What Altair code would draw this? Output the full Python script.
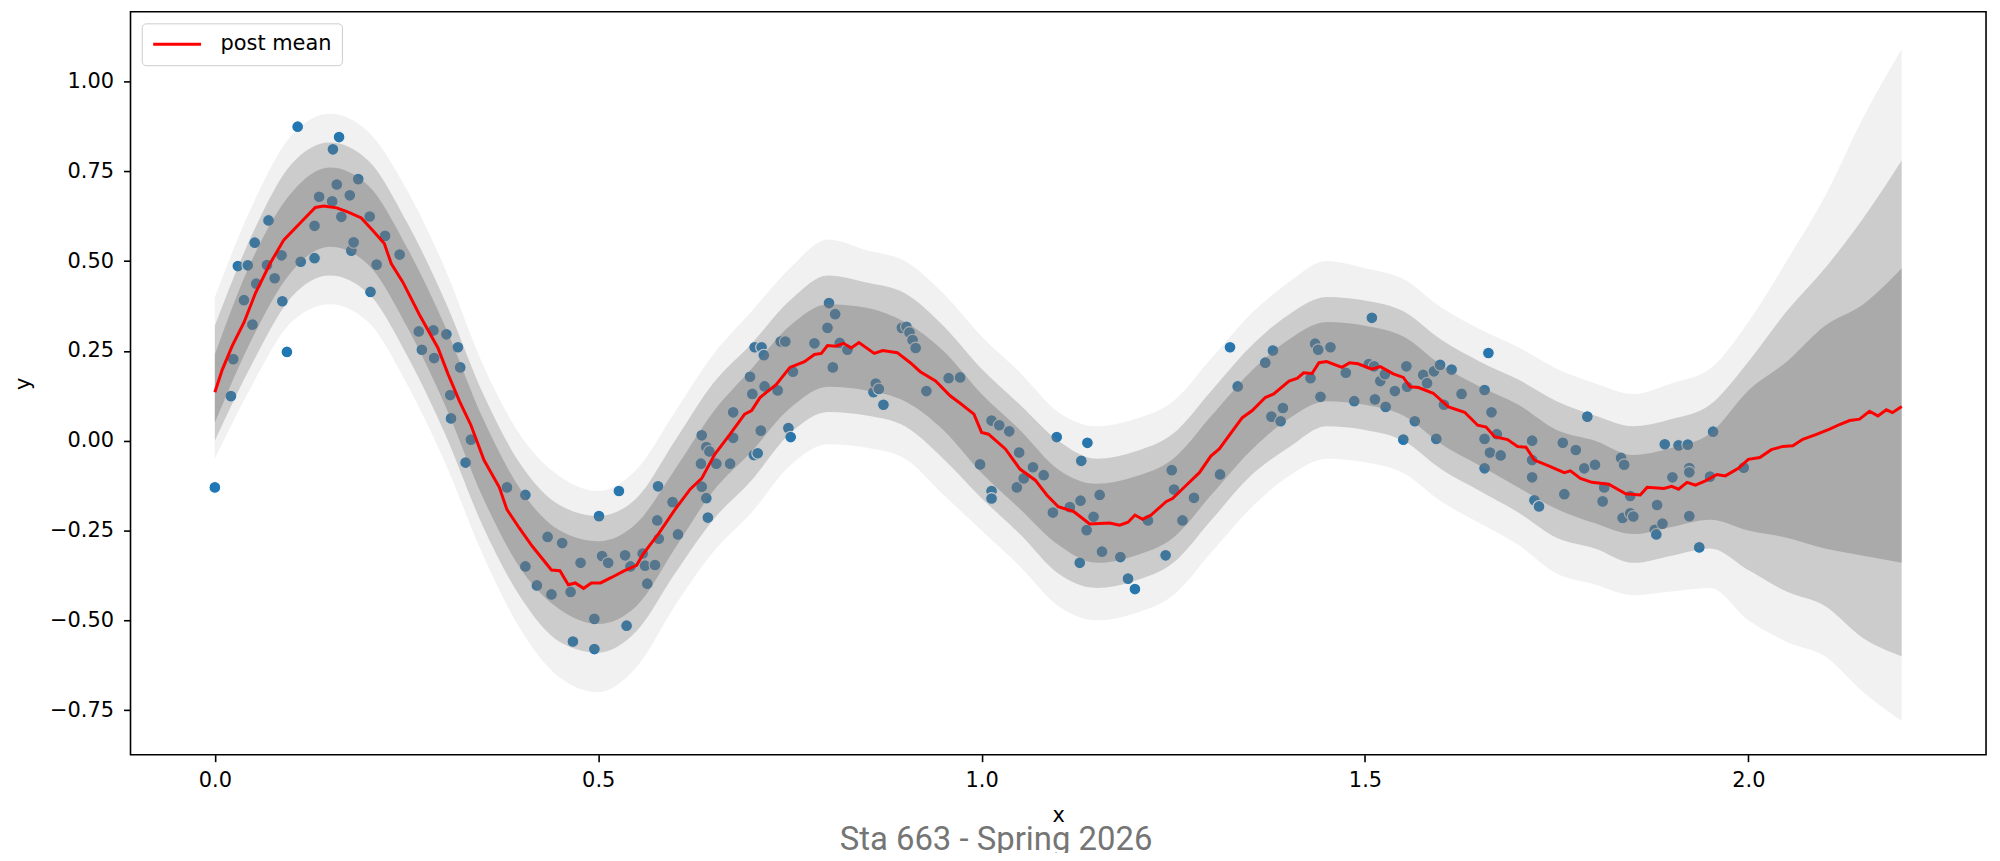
import altair as alt
import pandas as pd

# ---- posterior mean (red line) ----
mean_x = [0.0, 0.0096, 0.0225, 0.038, 0.053, 0.072, 0.090, 0.111, 0.131, 0.142,
          0.159, 0.174, 0.191, 0.206, 0.221, 0.230, 0.245, 0.267, 0.291, 0.304,
          0.319, 0.334, 0.351, 0.371, 0.381, 0.397, 0.414, 0.439, 0.450, 0.461,
          0.470, 0.481, 0.491, 0.503, 0.518, 0.533, 0.550, 0.559, 0.579, 0.600,
          0.620, 0.635, 0.652, 0.672, 0.691, 0.700, 0.711, 0.732, 0.750, 0.769,
          0.782, 0.791, 0.799, 0.810, 0.820, 0.830, 0.840, 0.860, 0.871, 0.890,
          0.907, 0.920, 0.940, 0.959, 0.972, 0.990, 1.000, 1.009, 1.031, 1.050,
          1.070, 1.085, 1.100, 1.120, 1.141, 1.167, 1.180, 1.191, 1.200, 1.210,
          1.221, 1.241, 1.249, 1.269, 1.284, 1.299, 1.310, 1.340, 1.353, 1.370,
          1.381, 1.401, 1.412, 1.420, 1.431, 1.440, 1.450, 1.470, 1.480, 1.491,
          1.509, 1.520, 1.537, 1.550, 1.559, 1.570, 1.589, 1.609, 1.630, 1.647,
          1.658, 1.669, 1.686, 1.699, 1.710, 1.721, 1.738, 1.760, 1.768, 1.781,
          1.796, 1.818, 1.840, 1.859, 1.868, 1.890, 1.900, 1.909, 1.920, 1.931,
          1.944, 1.959, 1.970, 1.987, 2.000, 2.015, 2.030, 2.045, 2.058, 2.071,
          2.088, 2.106, 2.119, 2.132, 2.145, 2.158, 2.169, 2.180, 2.188, 2.200]
mean_y = [0.135, 0.197, 0.263, 0.329, 0.411, 0.493, 0.559, 0.605, 0.649, 0.653,
          0.648, 0.636, 0.620, 0.585, 0.549, 0.493, 0.442, 0.350, 0.258, 0.186,
          0.110, 0.043, -0.054, -0.130, -0.192, -0.243, -0.294, -0.360, -0.362, -0.401,
          -0.396, -0.411, -0.396, -0.396, -0.380, -0.363, -0.347, -0.314, -0.258, -0.192,
          -0.135, -0.105, -0.038, 0.018, 0.074, 0.084, 0.120, 0.156, 0.204, 0.220,
          0.240, 0.243, 0.265, 0.263, 0.271, 0.258, 0.273, 0.243, 0.251, 0.245,
          0.217, 0.192, 0.166, 0.125, 0.104, 0.074, 0.023, 0.018, -0.023, -0.079,
          -0.110, -0.151, -0.184, -0.197, -0.232, -0.229, -0.235, -0.227, -0.207, -0.219,
          -0.207, -0.169, -0.161, -0.120, -0.089, -0.043, -0.023, 0.064, 0.084, 0.120,
          0.130, 0.166, 0.174, 0.189, 0.187, 0.217, 0.220, 0.204, 0.217, 0.214,
          0.199, 0.206, 0.186, 0.176, 0.150, 0.148, 0.132, 0.094, 0.079, 0.043,
          0.038, 0.011, 0.003, -0.016, -0.018, -0.054, -0.069, -0.089, -0.084, -0.105,
          -0.116, -0.121, -0.148, -0.151, -0.130, -0.133, -0.127, -0.135, -0.116, -0.124,
          -0.112, -0.094, -0.098, -0.077, -0.052, -0.047, -0.025, -0.016, -0.014, 0.004,
          0.017, 0.032, 0.045, 0.056, 0.060, 0.082, 0.069, 0.086, 0.078, 0.095]

# ---- observations (blue points) as (x, y) ----
obs = [
    (0.000, -0.130), (0.021, 0.124), (0.024, 0.227), (0.030, 0.486), (0.038, 0.391),
    (0.043, 0.488), (0.049, 0.323), (0.052, 0.551), (0.054, 0.437), (0.068, 0.489),
    (0.070, 0.613), (0.078, 0.452), (0.087, 0.516), (0.088, 0.388), (0.094, 0.247),
    (0.108, 0.874), (0.112, 0.498), (0.130, 0.598), (0.130, 0.508), (0.136, 0.679),
    (0.153, 0.666), (0.154, 0.811), (0.159, 0.713), (0.162, 0.845), (0.165, 0.623),
    (0.176, 0.683), (0.178, 0.529), (0.181, 0.552), (0.187, 0.728), (0.202, 0.624),
    (0.203, 0.414), (0.211, 0.490), (0.222, 0.570), (0.241, 0.518), (0.266, 0.304),
    (0.270, 0.253), (0.285, 0.307), (0.286, 0.230), (0.302, 0.296), (0.307, 0.127),
    (0.308, 0.062), (0.317, 0.260), (0.320, 0.204),
    (0.327, -0.061), (0.334, 0.003), (0.381, -0.130), (0.405, -0.151), (0.405, -0.350),
    (0.420, -0.403), (0.434, -0.268), (0.439, -0.428), (0.453, -0.285), (0.464, -0.421),
    (0.467, -0.559), (0.477, -0.340), (0.495, -0.496), (0.495, -0.580), (0.501, -0.210),
    (0.505, -0.321), (0.513, -0.340), (0.527, -0.140), (0.535, -0.319), (0.537, -0.515),
    (0.542, -0.350), (0.558, -0.314), (0.561, -0.348), (0.564, -0.398), (0.574, -0.346),
    (0.577, -0.222), (0.578, -0.127), (0.579, -0.273), (0.597, -0.171), (0.604, -0.261),
    (0.634, -0.064), (0.635, 0.015), (0.635, -0.128), (0.641, -0.018), (0.641, -0.160),
    (0.643, -0.214),
    (0.645, -0.030), (0.654, -0.064), (0.672, -0.064), (0.676, 0.079), (0.676, 0.008),
    (0.698, 0.178), (0.701, 0.130), (0.703, -0.040), (0.704, 0.260), (0.708, -0.035),
    (0.712, 0.028), (0.713, 0.260), (0.716, 0.238), (0.717, 0.151), (0.734, 0.140),
    (0.738, 0.276), (0.744, 0.276), (0.748, 0.035), (0.751, 0.010), (0.754, 0.192),
    (0.782, 0.271), (0.799, 0.314), (0.801, 0.383), (0.806, 0.204), (0.809, 0.352),
    (0.815, 0.272), (0.825, 0.253), (0.859, 0.135), (0.862, 0.159), (0.866, 0.144),
    (0.872, 0.100), (0.896, 0.314), (0.902, 0.317), (0.906, 0.301), (0.910, 0.280),
    (0.914, 0.258), (0.928, 0.138), (0.957, 0.174), (0.972, 0.176),
    (0.998, -0.066), (1.013, 0.056), (1.013, -0.140), (1.013, -0.161), (1.023, 0.043),
    (1.036, 0.026), (1.046, -0.130), (1.049, -0.033), (1.055, -0.105), (1.067, -0.074),
    (1.081, -0.096), (1.093, -0.200), (1.098, 0.010), (1.115, -0.185), (1.128, -0.340),
    (1.129, -0.167), (1.130, -0.056), (1.137, -0.249), (1.138, -0.006), (1.146, -0.212),
    (1.154, -0.151), (1.157, -0.309), (1.181, -0.324), (1.191, -0.384), (1.200, -0.413),
    (1.217, -0.222), (1.240, -0.319), (1.248, -0.082), (1.251, -0.136), (1.262, -0.222),
    (1.277, -0.159),
    (1.311, -0.094), (1.324, 0.260), (1.334, 0.151), (1.370, 0.217), (1.378, 0.067),
    (1.380, 0.251), (1.390, 0.054), (1.393, 0.091), (1.429, 0.174), (1.435, 0.270),
    (1.439, 0.253), (1.442, 0.122), (1.455, 0.260), (1.475, 0.189), (1.486, 0.110),
    (1.505, 0.213), (1.509, 0.342), (1.512, 0.207), (1.513, 0.115), (1.520, 0.166),
    (1.526, 0.185), (1.527, 0.094), (1.539, 0.138), (1.550, 0.003), (1.554, 0.207),
    (1.555, 0.150), (1.565, 0.054), (1.576, 0.183), (1.581, 0.160), (1.590, 0.193),
    (1.593, 0.005), (1.598, 0.211), (1.603, 0.100), (1.613, 0.198),
    (1.626, 0.130), (1.656, 0.141), (1.656, 0.005), (1.656, -0.077), (1.661, 0.244),
    (1.663, -0.033), (1.665, 0.079), (1.672, 0.018), (1.677, -0.041), (1.718, 0.000),
    (1.718, -0.054), (1.718, -0.102), (1.721, -0.166), (1.727, -0.183), (1.758, -0.006),
    (1.760, -0.149), (1.775, -0.026), (1.786, -0.077), (1.790, 0.067), (1.800, -0.067),
    (1.810, -0.169), (1.812, -0.130), (1.834, -0.048), (1.836, -0.215), (1.838, -0.067),
    (1.846, -0.202), (1.846, -0.154), (1.850, -0.211), (1.878, -0.248), (1.880, -0.261),
    (1.881, -0.179), (1.888, -0.231), (1.891, -0.010), (1.901, -0.102), (1.909, -0.013),
    (1.921, -0.011), (1.923, -0.076), (1.923, -0.088), (1.923, -0.210), (1.936, -0.297),
    (1.950, -0.100), (1.954, 0.025), (1.994, -0.075),
]

# ---- envelope of the gray posterior draws ----
band_x = [0.00, 0.05, 0.10, 0.15, 0.20, 0.25, 0.30, 0.35, 0.40, 0.45,
          0.50, 0.55, 0.60, 0.65, 0.70, 0.75, 0.80, 0.85, 0.90, 0.95,
          1.00, 1.05, 1.10, 1.15, 1.20, 1.25, 1.30, 1.35, 1.40, 1.45,
          1.50, 1.55, 1.60, 1.65, 1.70, 1.75, 1.80, 1.85, 1.90, 1.95,
          2.00, 2.05, 2.10, 2.15, 2.20]
outer_lo = [-0.05, 0.16, 0.33, 0.38, 0.33, 0.16, -0.06, -0.32, -0.53, -0.66,
            -0.70, -0.63, -0.46, -0.31, -0.20, -0.07, -0.01, -0.02, -0.05, -0.15,
            -0.25, -0.35, -0.46, -0.50, -0.48, -0.43, -0.31, -0.19, -0.10, -0.05,
            -0.06, -0.09, -0.17, -0.23, -0.29, -0.37, -0.40, -0.43, -0.42, -0.41,
            -0.50, -0.56, -0.60, -0.70, -0.78]
outer_hi = [0.40, 0.66, 0.85, 0.91, 0.86, 0.70, 0.48, 0.21, 0.01, -0.10,
            -0.14, -0.08, 0.08, 0.24, 0.36, 0.48, 0.56, 0.53, 0.50, 0.41,
            0.29, 0.19, 0.08, 0.04, 0.06, 0.11, 0.23, 0.35, 0.44, 0.50,
            0.48, 0.45, 0.37, 0.31, 0.26, 0.20, 0.16, 0.13, 0.16, 0.20,
            0.33, 0.50, 0.68, 0.90, 1.09]
mid_lo = [0.00, 0.22, 0.40, 0.46, 0.41, 0.24, 0.02, -0.24, -0.44, -0.56,
          -0.59, -0.53, -0.37, -0.22, -0.11, 0.02, 0.08, 0.07, 0.04, -0.05,
          -0.16, -0.26, -0.37, -0.41, -0.39, -0.34, -0.22, -0.10, -0.02, 0.04,
          0.03, 0.00, -0.08, -0.14, -0.20, -0.27, -0.30, -0.34, -0.32, -0.30,
          -0.36, -0.42, -0.46, -0.55, -0.60]
mid_hi = [0.32, 0.58, 0.77, 0.83, 0.78, 0.61, 0.39, 0.13, -0.07, -0.18,
          -0.21, -0.16, 0.00, 0.16, 0.27, 0.39, 0.46, 0.44, 0.41, 0.32,
          0.20, 0.10, 0.00, -0.05, -0.03, 0.02, 0.14, 0.26, 0.35, 0.40,
          0.39, 0.36, 0.28, 0.22, 0.17, 0.11, 0.07, 0.04, 0.06, 0.10,
          0.22, 0.36, 0.48, 0.62, 0.78]
inner_lo = [0.05, 0.29, 0.47, 0.54, 0.49, 0.32, 0.10, -0.16, -0.36, -0.47,
            -0.51, -0.46, -0.30, -0.14, -0.03, 0.09, 0.15, 0.14, 0.11, 0.03,
            -0.09, -0.19, -0.29, -0.34, -0.32, -0.27, -0.15, -0.03, 0.06, 0.11,
            0.10, 0.07, -0.01, -0.07, -0.13, -0.19, -0.23, -0.26, -0.24, -0.22,
            -0.25, -0.27, -0.30, -0.32, -0.34]
inner_hi = [0.24, 0.51, 0.69, 0.76, 0.71, 0.54, 0.32, 0.06, -0.14, -0.25,
            -0.28, -0.23, -0.08, 0.08, 0.20, 0.32, 0.38, 0.37, 0.33, 0.25,
            0.13, 0.03, -0.08, -0.12, -0.10, -0.05, 0.07, 0.19, 0.28, 0.33,
            0.32, 0.29, 0.21, 0.15, 0.10, 0.03, 0.00, -0.04, -0.02, 0.02,
            0.14, 0.22, 0.32, 0.38, 0.48]

x_ticks = [0.0, 0.5, 1.0, 1.5, 2.0]
y_ticks = [-0.75, -0.5, -0.25, 0.0, 0.25, 0.5, 0.75, 1.0]
caption = "Sta 663 - Spring 2026"

obs_df = pd.DataFrame(obs, columns=["x", "y"])
mean_df = pd.DataFrame({"x": mean_x, "y": mean_y, "label": "post mean"})
band_df = pd.DataFrame({"x": band_x, "olo": outer_lo, "ohi": outer_hi,
                        "mlo": mid_lo, "mhi": mid_hi, "ilo": inner_lo, "ihi": inner_hi})

W, H = 1863, 746
xs = alt.Scale(domain=[-0.11, 2.31], nice=False, zero=False)
ys = alt.Scale(domain=[-0.874, 1.194], nice=False, zero=False)
xaxis = alt.Axis(values=x_ticks, format=".1f", title="x", titleX=W / 2, titleY=67,
                 titleBaseline="alphabetic", labelPadding=8)
yaxis = alt.Axis(values=y_ticks, format=".2f", title="y", titleX=-101, titleY=H / 2,
                 titleAngle=270, titleBaseline="alphabetic", labelPadding=10)

X = alt.X("x:Q", scale=xs, axis=xaxis)

points = alt.Chart(obs_df).mark_circle(
    size=140, color="#1f77b4", opacity=1, stroke="white", strokeWidth=1.1
).encode(x=X, y=alt.Y("y:Q", scale=ys, axis=yaxis))


def band(lo, hi, op):
    return alt.Chart(band_df).mark_area(color="#777777", opacity=op, interpolate="monotone").encode(
        x=X, y=alt.Y(f"{lo}:Q", scale=ys, axis=yaxis), y2=f"{hi}:Q")


line = alt.Chart(mean_df).mark_line(strokeWidth=3).encode(
    x=X, y=alt.Y("y:Q", scale=ys, axis=yaxis),
    color=alt.Color("label:N", scale=alt.Scale(domain=["post mean"], range=["#ff0000"]),
                    title=None,
                    legend=alt.Legend(orient="none", legendX=11.3, legendY=11.7,
                                      symbolType="stroke", symbolSize=2304,
                                      symbolStrokeWidth=3, labelOffset=18, padding=10,
                                      clipHeight=22, fillColor="white",
                                      strokeColor="#cccccc", cornerRadius=4,
                                      labelFontSize=21, labelFont="DejaVu Sans",
                                      labelColor="black")))

cap = alt.Chart(pd.DataFrame({"t": [caption]})).mark_text(
    font="Roboto", fontSize=33, color="#757575", align="center", baseline="alphabetic"
).encode(text="t:N", x=alt.value(869), y=alt.value(842))

chart = alt.layer(points, band("olo", "ohi", 0.10), band("mlo", "mhi", 0.30),
                  band("ilo", "ihi", 0.40), line, cap).properties(
    width=W, height=H,
    autosize=alt.AutoSizeParams(type="none"),
    padding={"left": 123, "top": 2, "right": 6, "bottom": 97},
).configure_axis(
    labelFont="DejaVu Sans", labelFontSize=21, labelColor="black",
    titleFont="DejaVu Sans", titleFontSize=21, titleFontWeight="normal", titleColor="black",
    tickColor="black", tickWidth=1.6, tickSize=7, grid=False, domain=False,
).configure_view(stroke="black", strokeWidth=1.6)

chart.save("out.html", embed_options={"renderer": "svg", "actions": False})
